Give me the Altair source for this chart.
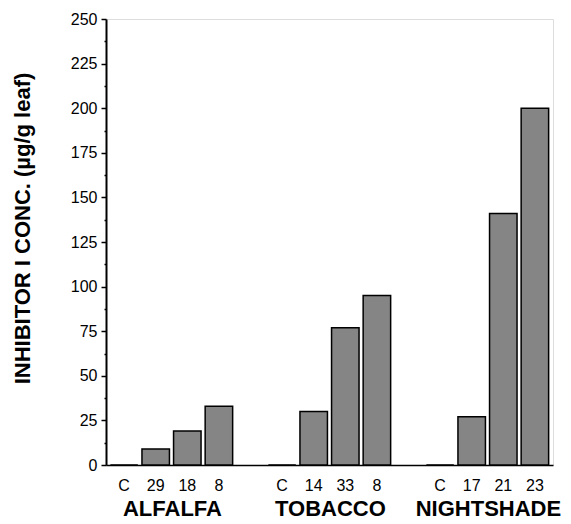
import altair as alt
import pandas as pd

groups = ["ALFALFA", "TOBACCO", "NIGHTSHADE"]
conditions = [["C", "29", "18", "8"], ["C", "14", "33", "8"], ["C", "17", "21", "23"]]
values = [[0, 9, 19, 33], [0, 30, 77, 95], [0, 27, 141, 200]]
y_ticks = [i * 12.5 for i in range(21)]

rows = []
domain = []
for gi, g in enumerate(groups):
    for c, v in zip(conditions[gi], values[gi]):
        key = f"{g}|{c}"
        rows.append({"key": key, "value": v})
        domain.append(key)
    if gi < len(groups) - 1:
        domain.append(f"gap{gi}|")
df = pd.DataFrame(rows)

lab = pd.DataFrame({"key": [f"{g}|{conditions[i][1]}" for i, g in enumerate(groups)],
                    "name": groups})

W, H = 447, 446

xscale = alt.Scale(domain=domain, paddingInner=0.13, paddingOuter=0.138)
yscale = alt.Scale(domain=[0, 250], nice=False)

bars = alt.Chart(df).mark_bar(fill="#858585", stroke="black", strokeWidth=1.5).encode(
    x=alt.X("key:N", scale=xscale, sort=domain,
            axis=alt.Axis(title=None, labelExpr="substring(datum.value, indexof(datum.value, '|') + 1)",
                          labelAngle=0, ticks=False, labelPadding=12, labelFontSize=16,
                          domainColor="black", domainWidth=1.5, labelColor="black")),
    y=alt.Y("value:Q", scale=yscale,
            axis=alt.Axis(title="INHIBITOR I CONC. (µg/g leaf)", values=y_ticks,
                          labelExpr="datum.value % 25 === 0 ? datum.label : ''",
                          tickSize={"condition": {"test": "datum.value % 25 === 0", "value": 5}, "value": 2},
                          tickColor="black", tickWidth=1.5, labelPadding=4, labelFontSize=16,
                          labelColor="black", domainColor="black", domainWidth=2, grid=False,
                          titleFontSize=22, titleFontWeight="bold", titleColor="black",
                          titleX=-72, titleY=209, titleAlign="center")),
)

text = alt.Chart(lab).mark_text(fontSize=22, fontWeight="bold", baseline="alphabetic",
                                align="center", color="black", dx=3).encode(
    x=alt.X("key:N", scale=xscale, sort=domain, bandPosition=1),
    y=alt.value(497),
    text="name:N",
)

chart = alt.layer(bars, text).properties(
    width=W, height=H,
    autosize=alt.AutoSizeParams(type="none"),
    padding={"left": 98, "top": 11, "right": 10, "bottom": 56},
).configure_view(stroke="black", strokeWidth=1.5).configure(font="Liberation Sans", background="white")

chart.save("out.html", embed_options={"renderer": "svg", "actions": False})
